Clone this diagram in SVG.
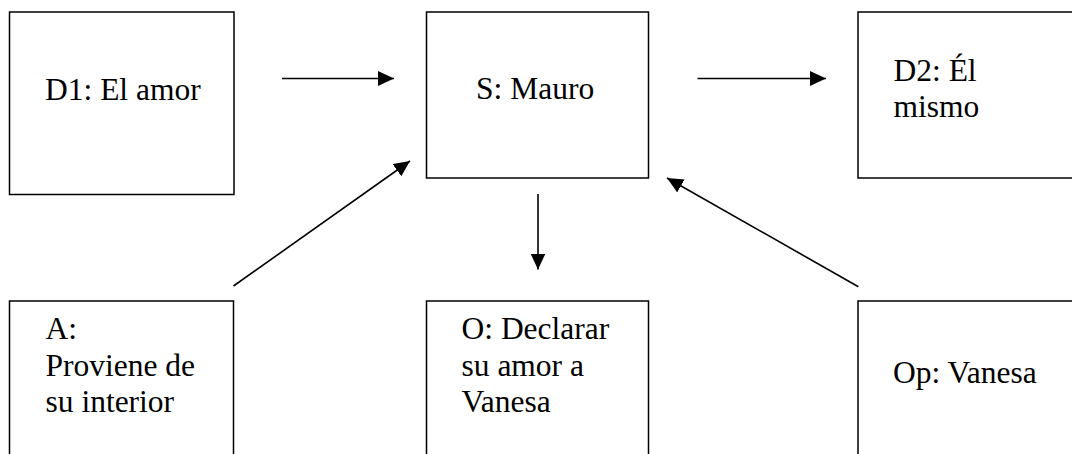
<svg xmlns="http://www.w3.org/2000/svg" width="1072" height="454" viewBox="0 0 1072 454">
<style>
.box{fill:#fff;stroke:#000;stroke-width:1.5}
.t{font-size:31.5px;fill:#000}
.c{stroke:#000;stroke-width:1.6;fill:none;marker-end:url(#ah)}
</style>
<defs>
<marker id="ah" markerUnits="userSpaceOnUse" markerWidth="17" markerHeight="16" refX="16" refY="7.5" orient="auto" viewBox="0 0 17 16">
<path d="M0,0 L16,7.5 L0,15 z" fill="#000"/>
</marker>
</defs>
<rect width="1072" height="454" fill="#fff"/>
<g font-family="'Liberation Serif', 'Times New Roman', Times, serif">
<g id="D1">
<rect class="box" x="9.5" y="12" width="224.5" height="182.5"/>
<text class="t" x="45" y="100">D1: El amor</text>
</g>
<g id="S">
<rect class="box" x="426.5" y="12" width="222" height="166"/>
<text class="t" x="476" y="99.3">S: Mauro</text>
</g>
<g id="D2">
<rect class="box" x="858" y="12" width="222" height="166"/>
<text class="t" x="893.5" y="80.7">D2: Él</text>
<text class="t" x="893.5" y="117">mismo</text>
</g>
<g id="A">
<rect class="box" x="9.5" y="301" width="224" height="170"/>
<text class="t" x="45.5" y="339.3">A:</text>
<text class="t" x="45.5" y="376">Proviene de</text>
<text class="t" x="45.5" y="412.3">su interior</text>
</g>
<g id="O">
<rect class="box" x="426.5" y="301" width="222" height="170"/>
<text class="t" x="461.5" y="339.3">O: Declarar</text>
<text class="t" x="461.5" y="376">su amor a</text>
<text class="t" x="461.5" y="412.3">Vanesa</text>
</g>
<g id="Op">
<rect class="box" x="858" y="301" width="222" height="170"/>
<text class="t" x="893" y="383">Op: Vanesa</text>
</g>
</g>
<g id="connectors">
<line class="c" x1="282" y1="78.5" x2="394" y2="78.5"/>
<line class="c" x1="697.5" y1="78.5" x2="826" y2="78.5"/>
<line class="c" x1="538" y1="194" x2="538" y2="269.5"/>
<line class="c" x1="233.5" y1="286" x2="410" y2="161"/>
<line class="c" x1="858.4" y1="286.7" x2="667" y2="178"/>
</g>
</svg>
